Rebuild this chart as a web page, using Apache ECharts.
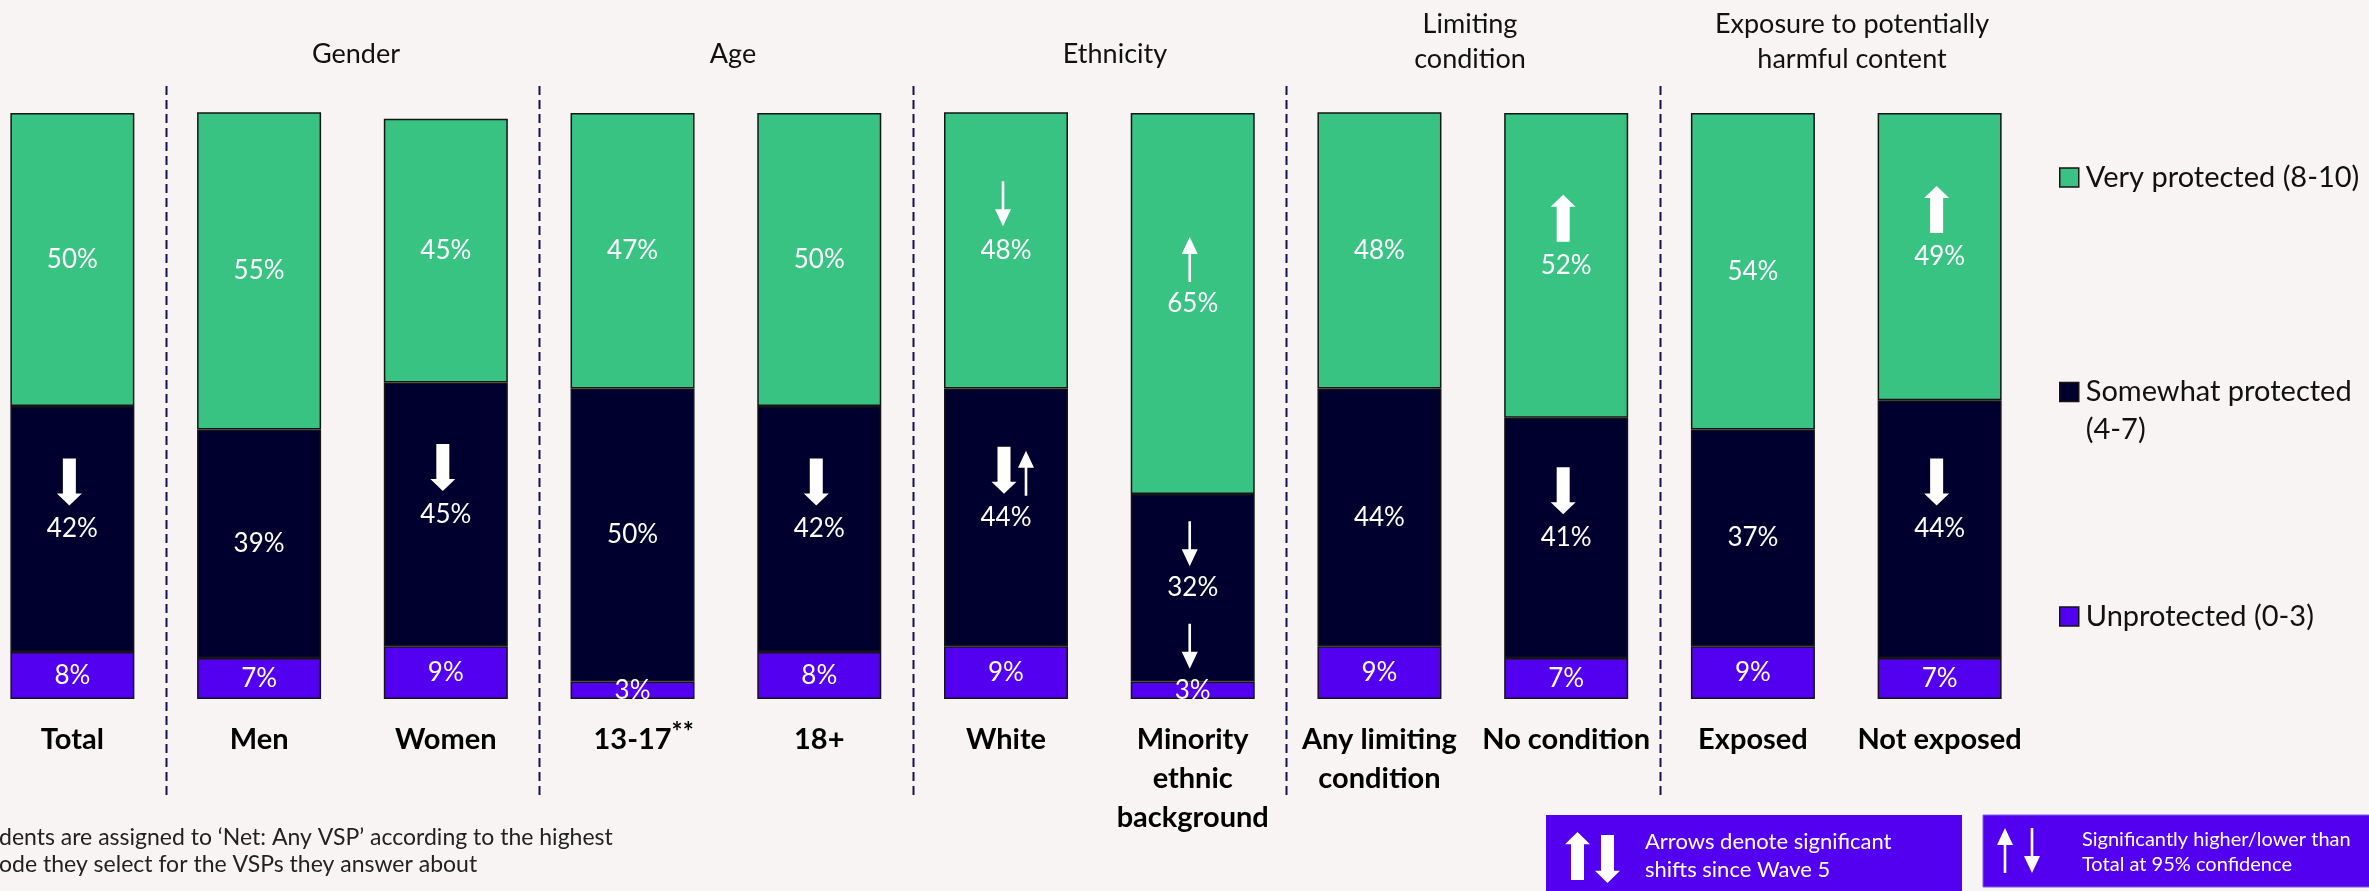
<!DOCTYPE html>
<html>
<head>
<meta charset="utf-8">
<script src="https://cdn.jsdelivr.net/npm/echarts@6/dist/echarts.min.js"></script>
<style>
  html, body { margin: 0; padding: 0; background: #F7F4F3; }
  #chart { width: 2369px; height: 891px; }
</style>
</head>
<body>
<div id="chart"></div>
<script>
// Categories along the x axis
const categories = ['Total', 'Men', 'Women', '13-17**', '18+', 'White',
  'Minority\nethnic\nbackground', 'Any limiting\ncondition', 'No condition', 'Exposed', 'Not exposed'];

// Share of respondents (%) in each protection band
const veryProtected     = [50, 55, 45, 47, 50, 48, 65, 48, 52, 54, 49];
const somewhatProtected = [42, 39, 45, 50, 42, 44, 32, 44, 41, 37, 44];
const unprotected       = [8, 7, 9, 3, 8, 9, 3, 9, 7, 9, 7];

// Significant shifts since Wave 5 (thick arrows)
const veryShiftSinceWave5        = [null, null, null, null, null, null, null, null, 'up', null, 'up'];
const somewhatShiftSinceWave5    = ['down', null, 'down', null, 'down', 'down', null, null, 'down', null, 'down'];
const unprotectedShiftSinceWave5 = [null, null, null, null, null, null, null, null, null, null, null];

// Significantly higher / lower than Total (thin arrows)
const veryVsTotal        = [null, null, null, null, null, 'down', 'up', null, null, null, null];
const somewhatVsTotal    = [null, null, null, null, null, 'up', 'down', null, null, null, null];
const unprotectedVsTotal = [null, null, null, null, null, null, 'down', null, null, null, null];

// Group headings
const groupTitles = ['Gender', 'Age', 'Ethnicity', 'Limiting\ncondition', 'Exposure to potentially\nharmful content'];
const groupTitleX = [356, 733, 1115, 1470, 1852];
// Dashed separators sit after these category indices
const separatorAfter = [0, 2, 4, 6, 8];

const seriesNames = ['Very protected (8-10)', 'Somewhat protected (4-7)', 'Unprotected (0-3)'];

const GREEN = '#38C383';
const NAVY = '#00002F';
const PURPLE = '#5400F0';
const FONT = 'Lato, "Open Sans", sans-serif';

// Arrow outlines as point lists (unit boxes: thick 25x47, thin 16x45)
const THICK_DOWN = [[6,0],[19,0],[19,35],[25,35],[12.5,47],[0,35],[6,35]];
const THICK_UP   = [[12.5,0],[25,12],[19,12],[19,47],[6,47],[6,12],[0,12]];
const THIN_DOWN  = [[6.7,0],[9.3,0],[9.3,28],[16,28],[8,45],[0,28],[6.7,28]];
const THIN_UP    = [[8,0],[16,17],[9.3,17],[9.3,45],[6.7,45],[6.7,17],[0,17]];
const toPath = pts => 'path://' + pts.map((p, i) => (i ? 'L' : 'M') + p[0] + ',' + p[1]).join('') + 'Z';

// Arrow markers placed above each segment's label
function arrowPoints() {
  const segs = [
    { vals: unprotected, base: i => 0, wave: unprotectedShiftSinceWave5, tot: unprotectedVsTotal },
    { vals: somewhatProtected, base: i => unprotected[i], wave: somewhatShiftSinceWave5, tot: somewhatVsTotal },
    { vals: veryProtected, base: i => unprotected[i] + somewhatProtected[i], wave: veryShiftSinceWave5, tot: veryVsTotal }
  ];
  const pts = [];
  segs.forEach(s => {
    s.vals.forEach((v, i) => {
      const mid = s.base(i) + v / 2;
      const w = s.wave[i], t = s.tot[i];
      const both = w && t;
      if (w) {
        pts.push({
          value: [i, mid],
          symbol: toPath(w === 'up' ? THICK_UP : THICK_DOWN),
          symbolSize: [25, 47],
          symbolOffset: [both ? -2 : -3, -47]
        });
      }
      if (t) {
        pts.push({
          value: [i, mid],
          symbol: toPath(t === 'up' ? THIN_UP : THIN_DOWN),
          symbolSize: [16, 45],
          symbolOffset: [both ? 20 : -3, -44]
        });
      }
    });
  });
  return pts;
}

const barBase = {
  type: 'bar',
  stack: 'share',
  barWidth: 124,
  itemStyle: { borderColor: '#151515', borderWidth: 1.5 },
  label: {
    show: true, position: 'inside', color: '#FFFFFF',
    fontFamily: FONT, fontSize: 26, formatter: '{c}%'
  },
  emphasis: { disabled: true }
};

const legendBase = {
  orient: 'vertical', left: 2059, icon: 'rect', itemWidth: 19, itemHeight: 19,
  padding: 0, selectedMode: false,
  itemStyle: { borderColor: '#151515', borderWidth: 1.5 },
  textStyle: { fontFamily: FONT, fontSize: 29, color: '#111111', padding: [0, 0, 0, 2] }
};

const chart = echarts.init(document.getElementById('chart'));

const option = {
  backgroundColor: '#F7F4F3',
  animation: false,
  grid: { left: -21, top: 113, width: 2054, height: 586, containLabel: false, outerBoundsMode: 'none' },
  xAxis: {
    type: 'category',
    data: categories,
    axisLine: { show: false },
    axisTick: { show: false },
    axisLabel: {
      interval: 0, margin: 21, color: '#000000', hideOverlap: false,
      fontFamily: FONT, fontSize: 29, fontWeight: 'bold', lineHeight: 39,
      formatter: function (v) {
        if (v.endsWith('**')) {
          return '{pad|**}{b|' + v.slice(0, -2) + '}{sup|**}';
        }
        return v;
      },
      rich: {
        b: { fontFamily: FONT, fontSize: 29, fontWeight: 'bold', color: '#000', lineHeight: 39 },
        sup: { fontFamily: FONT, fontSize: 26, fontWeight: 'bold', color: '#000', lineHeight: 26, verticalAlign: 'top' },
        pad: { fontFamily: FONT, fontSize: 26, fontWeight: 'bold', color: 'rgba(0,0,0,0)', lineHeight: 26, verticalAlign: 'top' }
      }
    }
  },
  yAxis: { type: 'value', min: 0, max: 100, show: false, splitLine: { show: false } },
  legend: [
    Object.assign({}, legendBase, { data: [seriesNames[0]], top: 163 }),
    Object.assign({}, legendBase, {
      data: [seriesNames[1]], top: 335,
      formatter: () => ' \nSomewhat protected\n(4-7)',
      textStyle: Object.assign({}, legendBase.textStyle, { lineHeight: 38 })
    }),
    Object.assign({}, legendBase, { data: [seriesNames[2]], top: 602 })
  ],
  series: [
    Object.assign({}, barBase, { name: seriesNames[2], data: unprotected, itemStyle: Object.assign({}, barBase.itemStyle, { color: PURPLE }) }),
    Object.assign({}, barBase, { name: seriesNames[1], data: somewhatProtected, itemStyle: Object.assign({}, barBase.itemStyle, { color: NAVY }) }),
    Object.assign({}, barBase, { name: seriesNames[0], data: veryProtected, itemStyle: Object.assign({}, barBase.itemStyle, { color: GREEN }) }),
    {
      type: 'scatter', name: 'arrows', z: 10, silent: true,
      itemStyle: { color: '#FFFFFF', opacity: 1 },
      data: arrowPoints()
    }
  ]
};

chart.setOption(option);

// Polygon for a key arrow placed at (x, y) with the given scale
function keyArrow(pts, x, y, sx, sy) {
  return {
    type: 'polygon', silent: true,
    shape: { points: pts.map(p => [x + p[0] * sx, y + p[1] * sy]) },
    style: { fill: '#FFFFFF' }
  };
}

// Headings, dashed separators, footnote and arrow key
const graphics = [];
groupTitles.forEach((t, k) => {
  graphics.push({
    type: 'text', silent: true,
    style: {
      text: t, x: groupTitleX[k], y: t.indexOf('\n') >= 0 ? 42 : 54,
      fill: '#111111', font: '27px ' + FONT, lineHeight: 35,
      align: 'center', verticalAlign: 'middle'
    }
  });
});
separatorAfter.forEach(i => {
  const a = chart.convertToPixel({ xAxisIndex: 0 }, i);
  const b = chart.convertToPixel({ xAxisIndex: 0 }, i + 1);
  const x = Math.round((a + b) / 2) + 0.5;
  graphics.push({
    type: 'line', silent: true,
    shape: { x1: x, y1: 86, x2: x, y2: 795 },
    style: { stroke: '#121252', lineWidth: 2, lineDash: [9, 5] }
  });
});
graphics.push({
  type: 'text', silent: true,
  style: {
    text: 'dents are assigned to \u2018Net: Any VSP\u2019 according to the highest\node they select for the VSPs they answer about',
    x: -1, y: 851, fill: '#222222', font: '23px ' + FONT, lineHeight: 27,
    align: 'left', verticalAlign: 'middle'
  }
});
// Key: shifts since Wave 5
graphics.push({ type: 'rect', silent: true, shape: { x: 1546, y: 815, width: 416, height: 90 }, style: { fill: PURPLE } });
graphics.push(keyArrow(THICK_UP, 1565, 832, 1, 48 / 47));
graphics.push(keyArrow(THICK_DOWN, 1595, 835, 1, 48 / 47));
graphics.push({
  type: 'text', silent: true,
  style: { text: 'Arrows denote significant\nshifts since Wave 5', x: 1645, y: 856, fill: '#FFFFFF', font: '22px ' + FONT, lineHeight: 28, align: 'left', verticalAlign: 'middle' }
});
// Key: compared with Total
graphics.push({ type: 'rect', silent: true, shape: { x: 1983, y: 815, width: 400, height: 72 }, style: { fill: PURPLE, stroke: '#7A5CF0', lineWidth: 1 } });
graphics.push(keyArrow(THIN_UP, 1997, 828, 1, 1));
graphics.push(keyArrow(THIN_DOWN, 2024, 828, 1, 1));
graphics.push({
  type: 'text', silent: true,
  style: { text: 'Significantly higher/lower than\nTotal at 95% confidence', x: 2082, y: 852, fill: '#FFFFFF', font: '20px ' + FONT, lineHeight: 25, align: 'left', verticalAlign: 'middle' }
});

chart.setOption({ graphic: graphics });
</script>
</body>
</html>
